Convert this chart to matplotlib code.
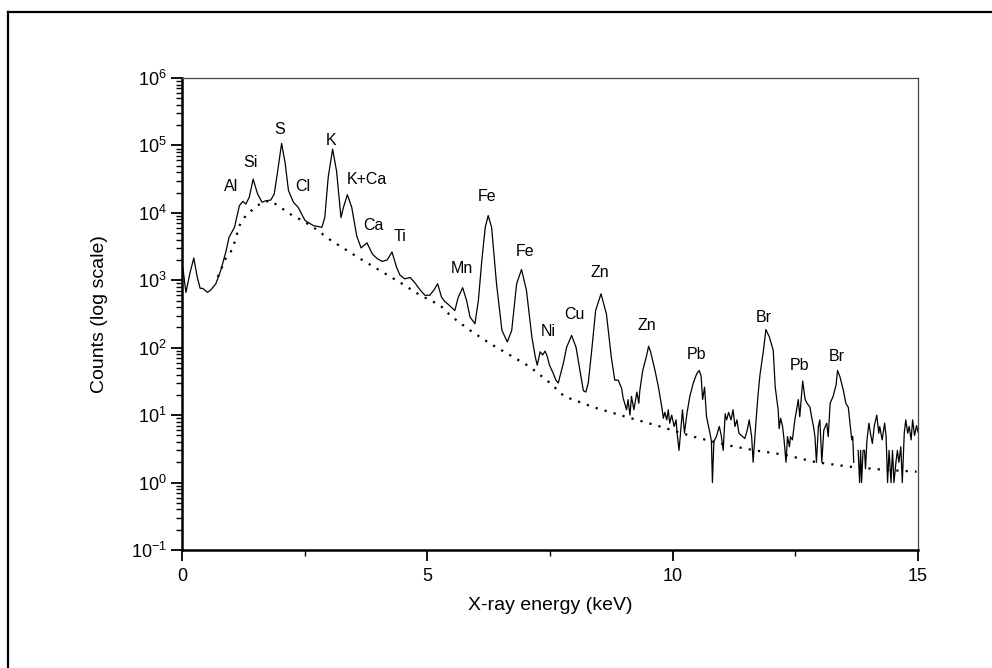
import matplotlib
matplotlib.use("Agg")
import matplotlib.pyplot as plt
from matplotlib.lines import Line2D
from matplotlib.ticker import LogLocator, LogFormatterMathtext, MultipleLocator, NullFormatter
import numpy as np

plt.rcParams['font.family'] = ['Liberation Sans', 'DejaVu Sans']
plt.rcParams['mathtext.fontset'] = 'custom'
plt.rcParams['mathtext.rm'] = 'Liberation Sans'
plt.rcParams['mathtext.it'] = 'Liberation Sans'

#%% Data
energy = [0.02, 0.08, 0.16, 0.24, 0.31, 0.37, 0.42, 0.47, 0.52, 0.59, 0.69, 0.79,
          0.90, 0.96, 1.07, 1.17, 1.24, 1.30, 1.37, 1.45, 1.54, 1.63, 1.71, 1.81,
          1.88, 1.95, 2.03, 2.10, 2.17, 2.27, 2.37, 2.44, 2.51, 2.68, 2.85, 2.91,
          2.98, 3.07, 3.15, 3.24, 3.29, 3.37, 3.46, 3.56, 3.65, 3.77, 3.88, 3.98,
          4.08, 4.18, 4.28, 4.37, 4.44, 4.54, 4.65, 4.75, 4.85, 4.95, 5.05, 5.14,
          5.21, 5.29, 5.36, 5.43, 5.50, 5.56, 5.63, 5.72, 5.80, 5.87, 5.97, 6.04,
          6.11, 6.18, 6.24, 6.31, 6.41, 6.52, 6.63, 6.72, 6.82, 6.92, 7.02, 7.13,
          7.20, 7.24, 7.30, 7.35, 7.40, 7.44, 7.49, 7.57, 7.62, 7.67, 7.70, 7.77,
          7.84, 7.94, 8.03, 8.11, 8.18, 8.23, 8.28, 8.35, 8.43, 8.54, 8.65, 8.75,
          8.82, 8.89, 8.96, 8.99, 9.06, 9.09, 9.13, 9.16, 9.21, 9.27, 9.31, 9.33,
          9.39, 9.46, 9.51, 9.55, 9.64, 9.71, 9.78, 9.81, 9.84, 9.88, 9.91, 9.94,
          9.98, 10.03, 10.07, 10.09, 10.13, 10.17, 10.20, 10.24, 10.29, 10.35, 10.42, 10.49,
          10.54, 10.58, 10.61, 10.65, 10.69, 10.76, 10.79, 10.81, 10.84, 10.89, 10.95, 10.99,
          11.03, 11.07, 11.10, 11.14, 11.19, 11.23, 11.27, 11.31, 11.35, 11.40, 11.47, 11.52,
          11.56, 11.61, 11.64, 11.70, 11.74, 11.78, 11.85, 11.90, 11.97, 12.05, 12.09, 12.15,
          12.17, 12.20, 12.24, 12.27, 12.31, 12.34, 12.38, 12.40, 12.44, 12.49, 12.56, 12.59,
          12.65, 12.70, 12.74, 12.80, 12.83, 12.87, 12.90, 12.93, 12.97, 13.00, 13.04, 13.08,
          13.14, 13.17, 13.21, 13.27, 13.33, 13.36, 13.41, 13.48, 13.53, 13.58, 13.65, 13.67,
          13.69, 13.72, 13.78, 13.81, 13.83, 13.85, 13.88, 13.91, 13.93, 13.96, 14.00, 14.03,
          14.07, 14.11, 14.16, 14.20, 14.22, 14.27, 14.32, 14.35, 14.38, 14.41, 14.45, 14.48,
          14.51, 14.55, 14.58, 14.61, 14.65, 14.68, 14.72, 14.75, 14.79, 14.82, 14.86, 14.89,
          14.93, 14.97, 15.00]
counts = [1480, 660, 1260, 2140, 1120, 760, 760, 710, 660, 725, 890, 1400,
          2750, 4370, 6110, 12800, 14800, 13500, 17000, 31600, 19100, 14400, 15100, 15500,
          19100, 41700, 107000, 56000, 21400, 14400, 12000, 9550, 7670, 6460, 6110, 8510,
          33900, 88100, 41700, 8510, 12000, 18600, 12000, 4570, 3020, 3590, 2450, 2090,
          1905, 2000, 2630, 1585, 1200, 1050, 1100, 910, 725, 600, 600, 725,
          890, 560, 480, 437, 390, 355, 560, 776, 500, 285, 227, 500,
          1950, 6110, 9120, 6110, 890, 181, 122, 181, 890, 1445, 708, 145,
          73, 55, 87, 78, 89, 76, 55, 41, 33, 30, 37, 58,
          102, 152, 102, 46, 23, 22, 30, 91, 357, 630, 316, 72,
          33, 33, 25, 18, 12, 17, 10, 19, 12, 22, 15, 23,
          46, 72, 105, 87, 46, 26, 13, 9, 11, 8.5, 12, 7.6,
          10, 6.8, 8.5, 5.4, 3, 6.8, 12, 5.4, 10.5, 19, 30, 41,
          46, 38, 17, 26, 9.5, 5.4, 4.1, 1, 4.1, 4.8, 6.8, 5,
          3, 10.5, 8.5, 11, 8.5, 12, 6.8, 8.5, 5.4, 5, 4.5, 6,
          8.5, 4.8, 2, 8.5, 20, 40, 91, 186, 145, 91, 26, 12,
          6.3, 9, 6.8, 4.3, 2, 4.8, 3.4, 4.8, 4.3, 8.5, 17, 9.5,
          32, 17, 15, 13, 9.5, 6.8, 4.8, 2, 6.8, 8.5, 2, 6,
          7.6, 4.8, 15, 19, 28, 46, 37, 23, 15, 13, 4.3, 4.8,
          2, np.nan, 3, 1, 3, 1, 3, 3, 1.6, 4.3, 7.6, 5.4,
          3.8, 7, 10, 5.4, 6.8, 4.3, 7.6, 4.8, 1, 3, 1, 3,
          1, 2, 3, 2, 3.4, 1, 5.4, 8.5, 5.4, 6.8, 4.3, 8.5,
          5, 7, 5.6]

bg_energy = [0.73, 0.90, 1.03, 1.17, 1.30, 1.47, 1.64, 1.81, 2.05, 2.25, 2.46, 2.73,
             3.00, 3.28, 3.63, 4.03, 4.44, 4.85, 5.26, 5.48, 5.87, 6.28, 6.68, 7.09,
             7.50, 7.79, 8.40, 9.06, 9.74, 10.42, 11.10, 11.68, 12.26, 12.93, 13.61, 14.29,
             14.97]
bg_counts = [1120, 2190, 2880, 6460, 9120, 11700, 14500, 15100, 11500, 9120, 7670, 5750,
             4070, 3020, 2090, 1400, 933, 603, 427, 295, 181, 115, 78, 52,
             30, 19, 13, 9.4, 6.8, 4.8, 3.6, 3.0, 2.6, 2.0, 1.72, 1.55,
             1.45]

peak_labels = ['Al', 'Si', 'S', 'Cl', 'K', 'K+Ca', 'Ca', 'Ti', 'Mn', 'Fe', 'Fe',
               'Ni', 'Cu', 'Zn', 'Zn', 'Pb', 'Br', 'Pb', 'Br']
label_x = [1.01, 1.40, 2.00, 2.47, 3.03, 3.76, 3.90, 4.44, 5.71, 6.22, 6.99,
           7.46, 7.99, 8.52, 9.47, 10.49, 11.85, 12.59, 13.34]
label_y = [25000, 56000, 174000, 24500, 120000, 31000, 6500, 4400, 1500, 17600, 2700,
           175, 316, 1290, 214, 78, 282, 54, 74]

#%% Plot
fig = plt.figure(figsize=(9.92, 6.68), dpi=100)
ax = fig.add_axes([182/992, 1 - 550/668, 736/992, 472/668])

ax.plot(energy, counts, color='black', lw=0.9)
ax.plot(bg_energy, bg_counts, color='black', lw=1.6, linestyle=(0, (1, 3.2)))

for name, xx, yy in zip(peak_labels, label_x, label_y):
    ax.text(xx, yy, name, ha='center', va='center', fontsize=11.5)

ax.set_yscale('log')
ax.set_xlim(0, 15)
ax.set_ylim(0.1, 1e6)

ax.yaxis.set_major_locator(LogLocator(base=10, numticks=20))
ax.yaxis.set_minor_locator(LogLocator(base=10, subs=np.arange(2, 10), numticks=100))
ax.yaxis.set_major_formatter(LogFormatterMathtext())
ax.yaxis.set_minor_formatter(NullFormatter())
ax.xaxis.set_major_locator(MultipleLocator(5))
ax.xaxis.set_minor_locator(MultipleLocator(2.5))

ax.tick_params(axis='both', which='major', direction='out', length=8, width=1.3,
               labelsize=13, color='black')
ax.tick_params(axis='both', which='minor', direction='out', length=4.5, width=1.0)
ax.tick_params(axis='y', which='major', pad=3)
ax.tick_params(axis='x', which='major', pad=5)

for side in ['left', 'bottom']:
    ax.spines[side].set_linewidth(1.8)
    ax.spines[side].set_color('black')
for side in ['top', 'right']:
    ax.spines[side].set_linewidth(0.9)
    ax.spines[side].set_color('#444444')

fig.text(100/992, 1 - 314/668, 'Counts (log scale)', rotation=90,
         ha='center', va='center', fontsize=14)
fig.text(550/992, 1 - 606/668, 'X-ray energy (keV)',
         ha='center', va='center', fontsize=14)

# outer frame (only top and left edges show in the picture)
fig.add_artist(Line2D([8/992, 8/992], [0, 1 - 12/668], transform=fig.transFigure,
                      color='black', lw=1.6))
fig.add_artist(Line2D([8/992, 1], [1 - 12/668, 1 - 12/668], transform=fig.transFigure,
                      color='black', lw=1.6))

fig.savefig('out.png', dpi=100)
